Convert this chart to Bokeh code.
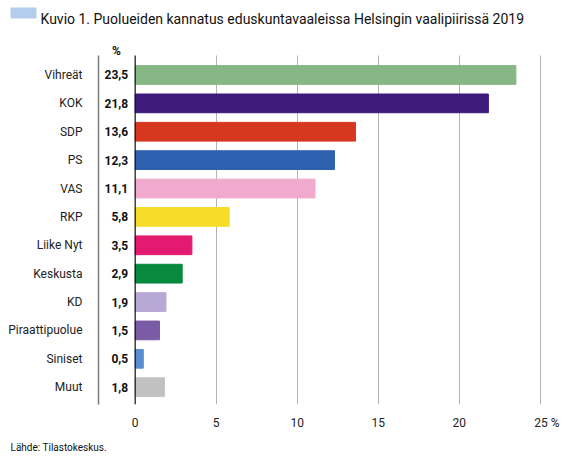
from bokeh.plotting import figure
from bokeh.models import ColumnDataSource, Range1d, FixedTicker
from bokeh.layouts import column
from bokeh.core.properties import value
from bokeh.embed import file_html
from bokeh.resources import INLINE

# ---- data ----
parties = ["Vihreät", "KOK", "SDP", "PS", "VAS", "RKP", "Liike Nyt", "Keskusta",
           "KD", "Piraattipuolue", "Siniset", "Muut"]
shares = [23.5, 21.8, 13.6, 12.3, 11.1, 5.8, 3.5, 2.9, 1.9, 1.5, 0.5, 1.8]
share_labels = ["23,5", "21,8", "13,6", "12,3", "11,1", "5,8", "3,5", "2,9", "1,9", "1,5", "0,5", "1,8"]
colors = ["#87b784", "#3d1a7c", "#d7361f", "#2e62b0", "#efaacd", "#f7dc2a",
          "#e31a6f", "#078a3e", "#b8a8d6", "#7a5ba6", "#5a8ed2", "#c1c1c1"]
x_ticks = [0, 5, 10, 15, 20, 25]
title_text = "Kuvio 1.  Puolueiden kannatus eduskuntavaaleissa Helsingin vaalipiirissä 2019"
source_text = "Lähde: Tilastokeskus."
unit_text = "%"

FONT = "Roboto"
W = 567


def bare_fig(h):
    fig = figure(width=W, height=h, output_backend="svg", toolbar_location=None,
                 x_range=Range1d(0, W), y_range=Range1d(h, 0),
                 x_axis_location=None, y_axis_location=None,
                 min_border=0, frame_align=False)
    fig.title.visible = False
    fig.outline_line_color = None
    fig.grid.visible = False
    fig.background_fill_color = "white"
    fig.border_fill_color = "white"
    return fig


# ---- header (title) ----
HH = 28
head = bare_fig(HH)
head.quad(left=10, right=36, top=7, bottom=18, fill_color="#b3cdee", line_color=None)
head.text(x=[40], y=[18.5], text=[title_text], text_align="left", text_baseline="alphabetic",
          text_font=value(FONT), text_font_size="14px", text_color="#111111")

# ---- main chart ----
MH = 404
fl, fr = 98, 543
ft, fb = 12, 381.5
ppu = 16.2
x0px = 134.7
x_start = -(x0px - fl) / ppu
x_end = (fr - x0px) / ppu
y_top_pad = 0.69          # grid starts this far above the first bar centre
y_frame_top = 1.215       # frame extends further up to hold the unit label
y_bot_pad = 0.61
n = len(parties)
grid_lo, grid_hi = -y_top_pad, n - 1 + y_bot_pad

idx = list(range(n))
src = ColumnDataSource(dict(y=idx, share=shares, lab=share_labels, color=colors))

p = figure(width=W, height=MH, output_backend="svg", toolbar_location=None,
           x_range=Range1d(x_start, x_end),
           y_range=Range1d(grid_hi, -y_frame_top),
           min_border_left=fl, min_border_right=W - fr,
           min_border_top=ft, min_border_bottom=int(MH - fb), frame_align=False)
p.outline_line_color = None
p.background_fill_color = "white"
p.border_fill_color = "white"
p.title.visible = False

p.hbar(y="y", left=0, right="share", height=0.66, color="color", source=src)

p.text(x=0, y="y", text="lab", source=src, x_offset=-7, text_align="right",
       text_baseline="middle", text_font=value(FONT), text_font_size="12px",
       text_font_style="bold", text_color="#111111")

# unit header above value column
p.text(x=[0], y=[grid_lo], text=[unit_text], x_offset=-18.7, y_offset=-4,
       text_align="center", text_baseline="middle", text_font=value(FONT),
       text_font_size="12px", text_font_style="bold", text_color="#111111")

# zero line
p.segment(x0=[0], x1=[0], y0=[grid_lo], y1=[grid_hi], line_color="#111111", line_width=1.2)

xa = p.xaxis[0]
xa.ticker = FixedTicker(ticks=x_ticks)
xa.major_label_overrides = {25: "\u2007\u200725 %"}
xa.axis_line_color = None
xa.major_tick_line_color = None
xa.minor_tick_line_color = None
xa.major_label_standoff = 5
xa.major_label_text_font = FONT
xa.major_label_text_font_size = "12px"
xa.major_label_text_color = "#222222"

ya = p.yaxis[0]
ya.ticker = FixedTicker(ticks=idx)
ya.bounds = (grid_lo, grid_hi)
ya.major_label_overrides = {i: nm for i, nm in enumerate(parties)}
ya.axis_line_color = "#7a7a7a"
ya.axis_line_width = 1.5
ya.major_tick_line_color = None
ya.minor_tick_line_color = None
ya.major_label_standoff = 10
ya.major_label_text_font = FONT
ya.major_label_text_font_size = "12px"
ya.major_label_text_color = "#222222"

p.xgrid.ticker = FixedTicker(ticks=x_ticks[1:])
p.xgrid.cross_bounds = (grid_lo, grid_hi)
p.xgrid.grid_line_color = "#b4b4b4"
p.xgrid.grid_line_width = 1
p.ygrid.grid_line_color = None

# ---- footer ----
FH = 459 - HH - MH
foot = bare_fig(FH)
foot.text(x=[10], y=[15], text=[source_text], text_align="left", text_baseline="middle",
          text_font=value(FONT), text_font_size="10px", text_color="#111111")

layout = column(head, p, foot, spacing=0)
open("out.html", "w").write(file_html(layout, INLINE))
